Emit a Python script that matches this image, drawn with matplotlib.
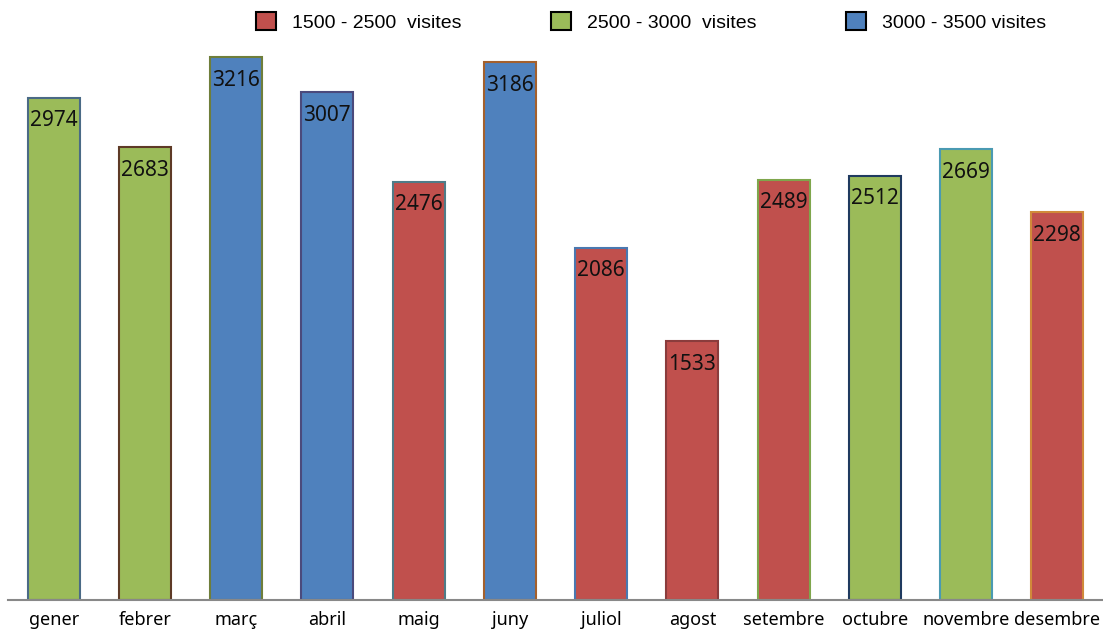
import matplotlib.pyplot as plt
from matplotlib.patches import Patch

months = ["gener", "febrer", "març", "abril", "maig", "juny", "juliol",
          "agost", "setembre", "octubre", "novembre", "desembre"]
visits = [2974, 2683, 3216, 3007, 2476, 3186, 2086, 1533, 2489, 2512, 2669, 2298]
# colour group per month as drawn in the original (0 red, 1 green, 2 blue)
groups = [1, 1, 2, 2, 0, 2, 0, 0, 0, 1, 1, 0]
legend_labels = ["1500 - 2500  visites", "2500 - 3000  visites", "3000 - 3500 visites"]

fills = ["#C0504D", "#9BBB59", "#4F81BD"]
edges = ["#4A6A86", "#5E3A26", "#6F7E3A", "#4B4A7C", "#4E7C88", "#A4602C",
         "#4A78B0", "#8A3C3C", "#7FA64C", "#1F3A5F", "#4A9AB2", "#D08A3A"]

fig = plt.figure(figsize=(11.03, 6.34), dpi=100)
ax = fig.add_axes([8 / 1103, 34 / 634, 1 - 8 / 1103, 1 - 34 / 634])

x = list(range(len(months)))
bars = ax.bar(x, visits, width=0.57,
              color=[fills[g] for g in groups], edgecolor=edges, linewidth=1.5)

for b, v in zip(bars, visits):
    ax.annotate(str(v), (b.get_x() + b.get_width() / 2, v),
                xytext=(0, -23), textcoords="offset pixels",
                ha="center", va="center", fontsize=15, family="Noto Sans",
                color="#111111")

ax.set_xlim(-0.5, 11.5)
ax.set_ylim(0, 3554)
ax.set_xticks(x)
ax.set_xticklabels(months, fontsize=13, family="Noto Sans")
ax.tick_params(axis="x", length=0, pad=8)
ax.set_yticks([])
for s in ["top", "right", "left"]:
    ax.spines[s].set_visible(False)
ax.spines["bottom"].set_color("#888888")
ax.spines["bottom"].set_linewidth(1.5)

handles = [Patch(facecolor=fills[i], edgecolor="black", linewidth=1.5)
           for i in range(3)]
fig.legend(handles, legend_labels, loc="center", bbox_to_anchor=(0.59, 0.965),
           ncol=3, frameon=False, prop={"family": "Liberation Sans", "size": 14},
           handlelength=1.05, handleheight=1.05, columnspacing=4.6, handletextpad=0.8)

fig.savefig("out.png", dpi=100)
